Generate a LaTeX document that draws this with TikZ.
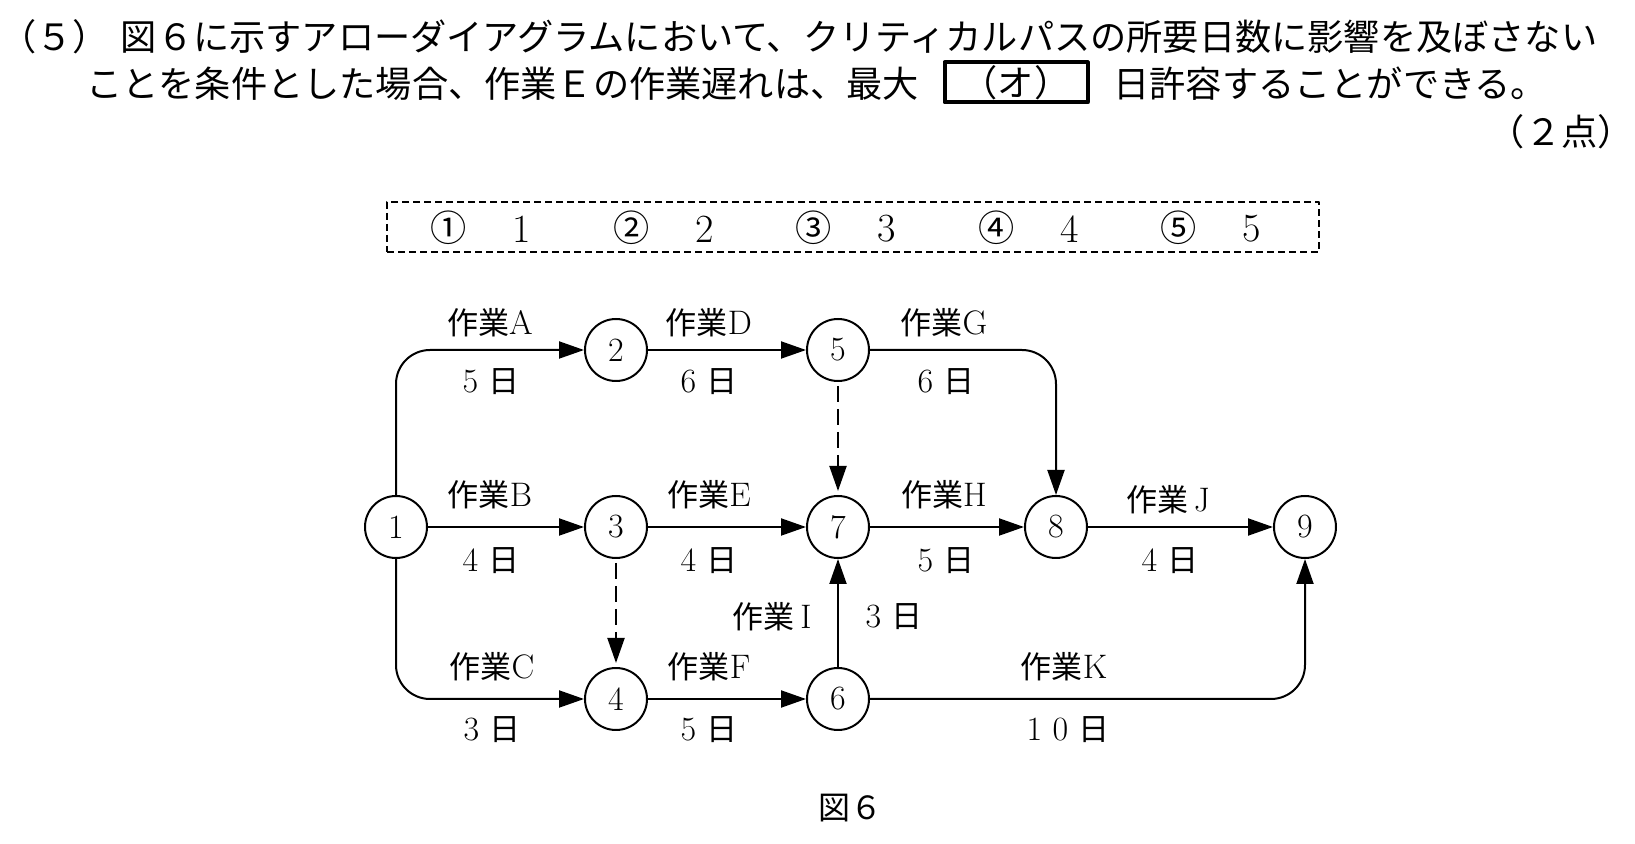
\documentclass[tikz,border=0pt]{standalone}
\usepackage{fontspec}
\newfontfamily\jp{Noto Sans CJK JP}
\usetikzlibrary{arrows.meta,positioning}
\newcommand{\job}[1]{{\jp\fontsize{15.5}{18}\selectfont 作業}#1}
\newcommand{\days}[1]{#1 {\jp\fontsize{15.5}{18}\selectfont 日}}

\tikzset{
    event/.style={circle,draw,line width=1pt,minimum size=31pt,inner sep=0pt,font=\fontsize{17}{18}\selectfont},
    work/.style={line width=1pt,-{Triangle[length=12.5pt,width=8.5pt]}},
    dummy/.style={work,dash pattern=on 8pt off 3.5pt,shorten <=2pt,shorten >=2pt},
    lbl/.style={inner sep=0pt,font=\fontsize{17}{18}\selectfont},
    body/.style={inner sep=0pt,anchor=west,font=\fontsize{18.1}{20}\selectfont\jp},
}

\begin{document}
\begin{tikzpicture}[x=0.5pt,y=-0.5pt,line cap=butt,line join=round]
        \useasboundingbox (0,0) rectangle (1635,844);

        % --- Question text ---
        \node[body] (q1) at (0,36.5) {（５）\hspace{6pt}図６に示すアローダイアグラムにおいて、クリティカルパスの所要日数に影響を及ぼさない};
        \node[body] (q2) at (86,83.4) {ことを条件とした場合、作業Ｅの作業遅れは、最大};
        \node[draw,line width=2pt,minimum width=71.5pt,minimum height=20pt,inner sep=0pt,font=\fontsize{18.1}{20}\selectfont\jp] (blank) at (1016,82.5) {（オ）};
        \node[body] (q3) at (1113,83.4) {日許容することができる。};
        \node[body,anchor=east] (pts) at (1634,132) {（２点）};

        % --- Choices ---
        \node[draw,line width=0.9pt,dash pattern=on 3.5pt off 2pt,minimum width=466pt,minimum height=25pt] (choices) at (853,227) {};
        \foreach \i/\c in {1/①,2/②,3/③,4/④,5/⑤} {
            \node[font=\fontsize{18.1}{20}\selectfont\jp] (c\i) at ({449+(\i-1)*182.5},228) {\c};
            \node[font=\fontsize{20}{22}\selectfont] (v\i) at ({522+(\i-1)*182.5},229) {\i};
        }

        % --- Events ---
        \node[event] (n1) at (396,527) {1};
        \node[event] (n2) at (616,350) {2};
        \node[event] (n3) at (616,527) {3};
        \node[event] (n4) at (616,699) {4};
        \node[event] (n5) at (838,350) {5};
        \node[event] (n6) at (838,699) {6};
        \node[event] (n7) at (838,527) {7};
        \node[event] (n8) at (1056,527) {8};
        \node[event] (n9) at (1305,527) {9};

        % --- Activities ---
        \draw[work,rounded corners=17pt] (n1.north) |- (n2.west);
        \draw[work] (n1) -- (n3);
        \draw[work,rounded corners=17pt] (n1.south) |- (n4.west);
        \draw[work] (n2) -- (n5);
        \draw[work] (n3) -- (n7);
        \draw[work] (n4) -- (n6);
        \draw[work,rounded corners=17pt] (n5.east) -| (n8.north);
        \draw[work] (n7) -- (n8);
        \draw[work] (n6) -- (n7);
        \draw[work] (n8) -- (n9);
        \draw[work,rounded corners=17pt] (n6.east) -| (n9.south);

        % dummy activities
        \draw[dummy] (n5) -- (n7);
        \draw[dummy] (n3) -- (n4);

        % --- Labels ---
        \node[lbl] (la) at (490,323) {\job{A}};
        \node[lbl] (ta) at (491,382) {\days{5}};
        \node[lbl] (ld) at (709,323) {\job{D}};
        \node[lbl] (td) at (709,382) {\days{6}};
        \node[lbl] (lg) at (944,323) {\job{G}};
        \node[lbl] (tg) at (946,382) {\days{6}};
        \node[lbl] (lb) at (490,495) {\job{B}};
        \node[lbl] (tb) at (491,561) {\days{4}};
        \node[lbl] (le) at (709,495) {\job{E}};
        \node[lbl] (te) at (709,561) {\days{4}};
        \node[lbl] (lh) at (944,495) {\job{H}};
        \node[lbl] (th) at (946,561) {\days{5}};
        \node[lbl] (lj) at (1168,500) {\job{\,J}};
        \node[lbl] (tj) at (1170,561) {\days{4}};
        \node[lbl] (li) at (772,617) {\job{\,I}};
        \node[lbl] (ti) at (894,617) {\days{3}};
        \node[lbl] (lc) at (492,667) {\job{C}};
        \node[lbl] (tc) at (492,730) {\days{3}};
        \node[lbl] (lf) at (709,667) {\job{F}};
        \node[lbl] (tf) at (709,730) {\days{5}};
        \node[lbl] (lk) at (1064,667) {\job{K}};
        \node[lbl] (tk) at (1068,730) {\days{1 0}};

        % caption
        \node[lbl,font=\fontsize{16}{18}\selectfont\jp] (cap) at (850,808) {図６};

\end{tikzpicture}
\end{document}
